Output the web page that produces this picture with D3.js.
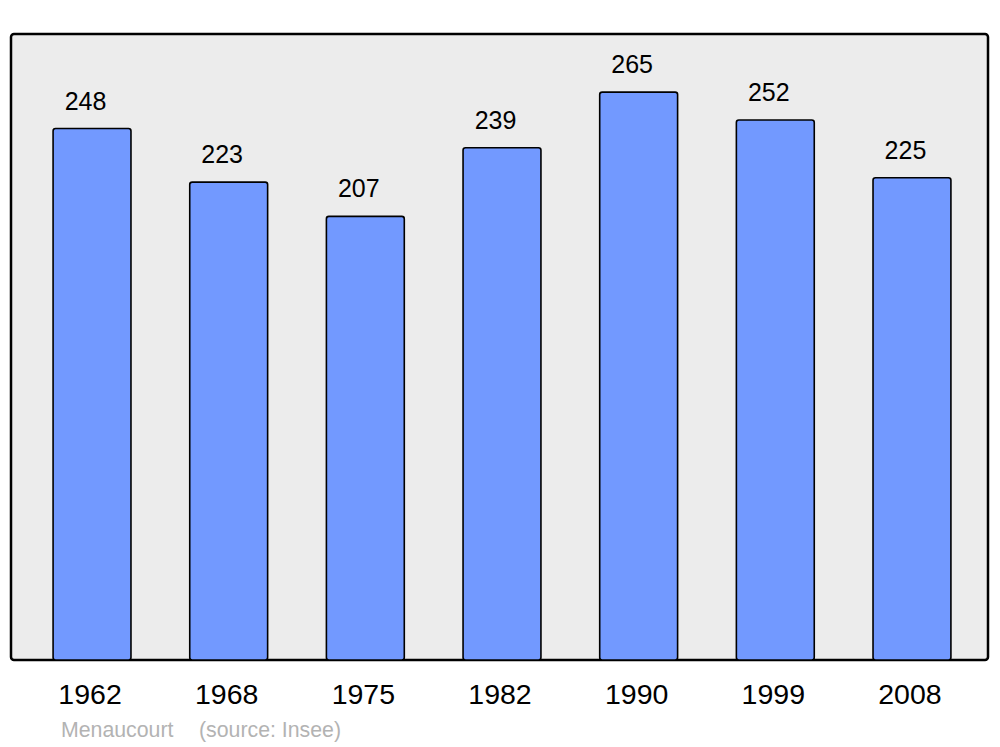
<!DOCTYPE html>
<html><head><meta charset="utf-8">
<script src="https://cdn.jsdelivr.net/npm/d3@7"></script>
<style>body{margin:0;background:#fff}svg{display:block;font-family:"Liberation Sans",Arial,sans-serif}</style>
</head><body>
<script>
const years = ["1962","1968","1975","1982","1990","1999","2008"];
const population = [248,223,207,239,265,252,225];
const caption = ["Menaucourt", "(source: Insee)"];

const W = 1000, H = 747;
const svg = d3.select("body").append("svg").attr("width", W).attr("height", H);

const frame = {x0: 11, y0: 34, x1: 988, y1: 660};
svg.append("rect").attr("x", frame.x0).attr("y", frame.y0)
  .attr("width", frame.x1 - frame.x0).attr("height", frame.y1 - frame.y0)
  .attr("rx", 3).attr("fill", "#ececec").attr("stroke", "#000").attr("stroke-width", 2.5);

const x = d3.scaleBand().domain(years).range([23.7, 980.3]).paddingInner(0.43).paddingOuter(0.215);
const y = d3.scaleLinear().domain([0, 292.1]).range([frame.y1, frame.y0]);

const g = svg.append("g");
g.selectAll("rect.bar").data(years).join("rect").attr("class", "bar")
  .attr("x", d => x(d)).attr("width", x.bandwidth())
  .attr("y", (d, i) => y(population[i]))
  .attr("height", (d, i) => y(0) - y(population[i]))
  .attr("rx", 2.5)
  .attr("fill", "#7299ff").attr("stroke", "#000").attr("stroke-width", 1.6);

g.selectAll("text.val").data(years).join("text").attr("class", "val")
  .attr("x", d => x(d) + x.bandwidth() / 2 - 6.5)
  .attr("y", (d, i) => y(population[i]) - 19)
  .attr("text-anchor", "middle").attr("font-size", 25).attr("fill", "#000")
  .text((d, i) => population[i]);

const axis = d3.axisBottom(x).tickSize(0).tickPadding(0);
const ax = svg.append("g").attr("transform", `translate(-2,${frame.y1})`).call(axis);
ax.select(".domain").remove();
ax.selectAll("text").attr("font-size", 28.5).attr("fill", "#000")
  .attr("font-family", "'Liberation Sans',Arial,sans-serif")
  .attr("dy", null).attr("y", 44);

svg.append("text").attr("x", 61).attr("y", 737).attr("font-size", 21.3).attr("fill", "#b3b3b3").text(caption[0]);
svg.append("text").attr("x", 199).attr("y", 737).attr("font-size", 21.3).attr("fill", "#b3b3b3").text(caption[1]);
</script>
</body></html>
